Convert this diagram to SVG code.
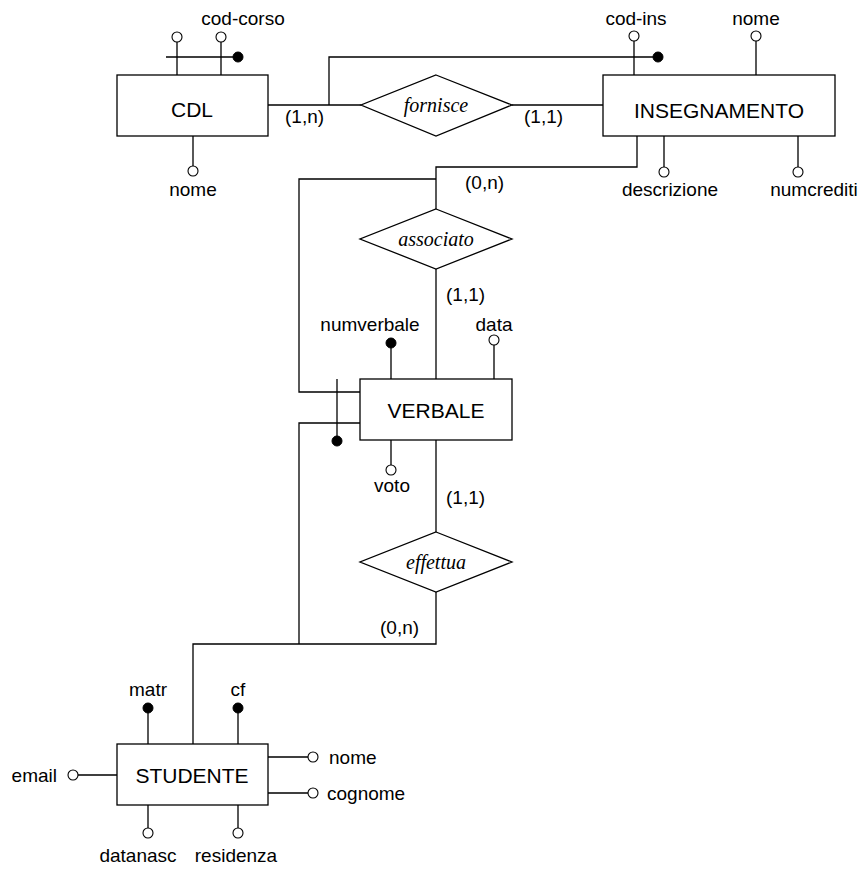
<svg xmlns="http://www.w3.org/2000/svg" width="867" height="869" viewBox="0 0 867 869">
  <style>
    .ln { fill: none; stroke: #000; stroke-width: 1.3; }
    .box { fill: #fff; stroke: #000; stroke-width: 1.3; }
    .att { fill: #fff; stroke: #000; stroke-width: 1.1; }
    .key { fill: #000; stroke: #000; stroke-width: 1; }
    .ent { font-family: "Liberation Sans", Arial, sans-serif; font-size: 21px; text-anchor: middle; fill: #000; }
    .lbl { font-family: "Liberation Sans", Arial, sans-serif; font-size: 19px; fill: #000; }
    .mid { text-anchor: middle; }
    .rel { font-family: "Liberation Serif", "Times New Roman", serif; font-style: italic; font-size: 20px; text-anchor: middle; fill: #000; }
  </style>
  <rect width="867" height="869" fill="#fff"/>

  <!-- connectors and identifier lines -->
  <g id="connectors">
    <!-- CDL - fornisce - INSEGNAMENTO -->
    <path class="ln" d="M268,105 H361"/>
    <path class="ln" d="M512,105 H603"/>
    <!-- external identifier of INSEGNAMENTO -->
    <path class="ln" d="M329,105 V57 H655"/>
    <!-- INSEGNAMENTO - associato -->
    <path class="ln" d="M637,136 V167 H436 V209"/>
    <!-- associato - VERBALE -->
    <path class="ln" d="M436,269 V379"/>
    <!-- VERBALE external identifier branches -->
    <path class="ln" d="M436,179 H299 V392 H360"/>
    <path class="ln" d="M360,423 H299 V644"/>
    <path class="ln" d="M337,379 V438"/>
    <!-- VERBALE - effettua -->
    <path class="ln" d="M436,440 V532"/>
    <!-- effettua - STUDENTE -->
    <path class="ln" d="M436,592 V644 H193 V744"/>
  </g>

  <!-- CDL -->
  <g id="cdl">
    <rect class="box" x="117" y="75" width="151" height="61"/>
    <text class="ent" x="192" y="117">CDL</text>
    <path class="ln" d="M177,42 V75 M221,42 V75 M166,57 H234 M193,136 V166"/>
    <circle class="att" cx="177" cy="37" r="5"/>
    <circle class="att" cx="221" cy="37" r="5"/>
    <circle class="key" cx="238" cy="57" r="5"/>
    <circle class="att" cx="193" cy="171" r="5"/>
    <text class="lbl mid" x="243" y="25">cod-corso</text>
    <text class="lbl mid" x="193" y="196">nome</text>
  </g>

  <!-- fornisce -->
  <g id="fornisce">
    <polygon class="box" points="436,75 512,105 436,136 361,105"/>
    <text class="rel" x="436" y="112">fornisce</text>
    <text class="lbl" x="285" y="123">(1,n)</text>
    <text class="lbl" x="524" y="123">(1,1)</text>
  </g>

  <!-- INSEGNAMENTO -->
  <g id="insegnamento">
    <rect class="box" x="603" y="75" width="232" height="61"/>
    <text class="ent" x="719" y="118">INSEGNAMENTO</text>
    <path class="ln" d="M634,41 V75 M756,41 V75 M664,136 V167 M798,136 V167"/>
    <circle class="att" cx="634" cy="36" r="5"/>
    <circle class="key" cx="658" cy="57" r="5"/>
    <circle class="att" cx="756" cy="36" r="5"/>
    <circle class="att" cx="664" cy="172" r="5"/>
    <circle class="att" cx="798" cy="172" r="5"/>
    <text class="lbl mid" x="636" y="25">cod-ins</text>
    <text class="lbl mid" x="756" y="25">nome</text>
    <text class="lbl mid" x="670" y="196">descrizione</text>
    <text class="lbl mid" x="814" y="196">numcrediti</text>
  </g>

  <!-- associato -->
  <g id="associato">
    <polygon class="box" points="436,209 512,239 436,269 360,239"/>
    <text class="rel" x="436" y="246">associato</text>
    <text class="lbl" x="465" y="189">(0,n)</text>
    <text class="lbl" x="446" y="301">(1,1)</text>
  </g>

  <!-- VERBALE -->
  <g id="verbale">
    <rect class="box" x="360" y="379" width="152" height="61"/>
    <text class="ent" x="436" y="418">VERBALE</text>
    <path class="ln" d="M391,343 V379 M494,345 V379 M391,440 V465"/>
    <circle class="key" cx="391" cy="343" r="5"/>
    <circle class="att" cx="494" cy="340" r="5"/>
    <circle class="att" cx="391" cy="470" r="5"/>
    <circle class="key" cx="337" cy="441" r="5"/>
    <text class="lbl mid" x="370" y="331">numverbale</text>
    <text class="lbl mid" x="494" y="331">data</text>
    <text class="lbl mid" x="392" y="492">voto</text>
    <text class="lbl" x="446" y="504">(1,1)</text>
  </g>

  <!-- effettua -->
  <g id="effettua">
    <polygon class="box" points="436,532 512,562 436,592 360,562"/>
    <text class="rel" x="436" y="569">effettua</text>
    <text class="lbl" x="380" y="634">(0,n)</text>
  </g>

  <!-- STUDENTE -->
  <g id="studente">
    <rect class="box" x="117" y="744" width="151" height="61"/>
    <text class="ent" x="192" y="783">STUDENTE</text>
    <path class="ln" d="M148,708 V744 M238,708 V744 M268,757 H308 M268,793 H308 M117,775 H78 M148,805 V828 M238,805 V828"/>
    <circle class="key" cx="148" cy="708" r="5"/>
    <circle class="key" cx="238" cy="708" r="5"/>
    <circle class="att" cx="313" cy="757" r="5"/>
    <circle class="att" cx="313" cy="793" r="5"/>
    <circle class="att" cx="73" cy="775" r="5"/>
    <circle class="att" cx="148" cy="833" r="5"/>
    <circle class="att" cx="238" cy="833" r="5"/>
    <text class="lbl mid" x="148" y="696">matr</text>
    <text class="lbl mid" x="238" y="696">cf</text>
    <text class="lbl" x="329" y="764">nome</text>
    <text class="lbl" x="327" y="800">cognome</text>
    <text class="lbl" x="57" y="782" text-anchor="end">email</text>
    <text class="lbl mid" x="138" y="862">datanasc</text>
    <text class="lbl mid" x="236" y="862">residenza</text>
  </g>
</svg>
